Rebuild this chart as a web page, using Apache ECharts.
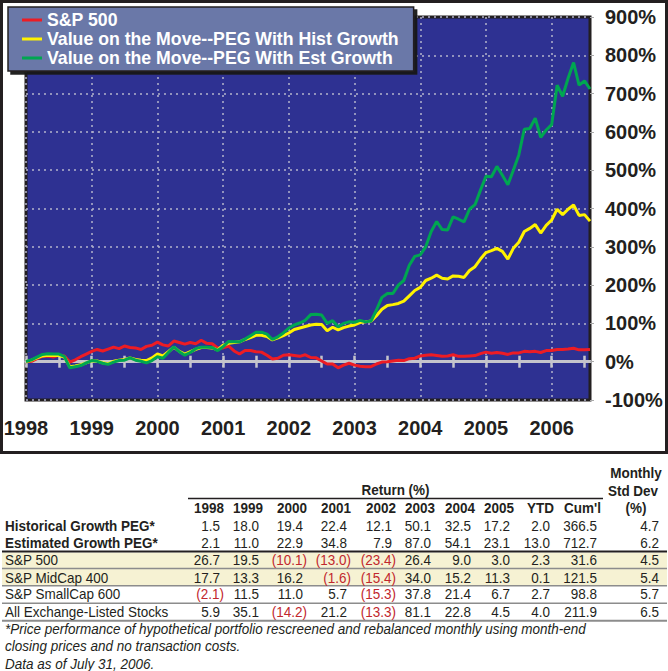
<!DOCTYPE html>
<html>
<head>
<meta charset="utf-8">
<script src="https://cdn.jsdelivr.net/npm/echarts@6/dist/echarts.min.js"></script>
<style>
  html, body { margin: 0; padding: 0; background: #fff; }
  #main { width: 668px; height: 671px; }
</style>
</head>
<body>
<div id="main"></div>
<script>
// month starts, Jan 1998 .. Aug 2006 (value = cumulative % at month start)
var months = [];
for (var i = 0; i < 104; i++) {
    var yr = 1998 + Math.floor(i / 12), mo = i % 12 + 1;
    months.push(yr + '-' + (mo < 10 ? '0' : '') + mo);
}

var sp500 = [0,
    1, 8, 14, 15, 12, 17, 15, -1, 5, 13, 20, 27,
    32, 28, 33, 38, 34, 41, 37, 36, 32, 40, 43, 51,
    44, 41, 54, 50, 46, 50, 47, 56, 48, 47, 36, 36,
    41, 28, 20, 29, 29, 26, 25, 17, 7, 9, 17, 18,
    16, 14, 18, 11, 10, 2, -6, -6, -16, -9, -4, -9,
    -12, -13, -13, -6, -1, 0, 2, 4, 3, 8, 9, 15,
    17, 18, 16, 14, 15, 18, 14, 14, 15, 16, 21, 25,
    22, 24, 22, 19, 23, 23, 27, 26, 27, 24, 29, 29,
    32, 32, 33, 35, 31, 31, 32];

var histPeg = [0,
    4, 10, 15, 17, 16, 16, 12, -13, -11, -8, -3, 2,
    2, -3, -5, 1, 4, 6, 10, 6, 4, 3, 10, 20,
    15, 26, 38, 27, 20, 26, 32, 37, 37, 36, 31, 43,
    48, 50, 52, 58, 63, 69, 69, 66, 57, 62, 68, 75,
    84, 88, 92, 96, 98, 97, 81, 90, 83, 89, 93, 96,
    102, 104, 106, 120, 137, 147, 149, 152, 158, 172, 186, 194,
    212, 218, 226, 218, 216, 224, 223, 220, 238, 248, 268, 285,
    290, 296, 288, 268, 296, 312, 340, 348, 358, 336, 356, 370,
    398, 384, 398, 409, 382, 384, 367];

var estPeg = [0,
    5, 12, 19, 21, 20, 20, 14, -16, -13, -10, -3, 3,
    1, -4, -7, -1, 3, 4, 10, 4, 1, -3, 3, 13,
    9, 24, 39, 26, 17, 24, 34, 38, 38, 37, 29, 39,
    53, 52, 52, 59, 68, 77, 77, 72, 58, 65, 75, 88,
    96, 101, 108, 123, 124, 122, 100, 107, 91, 100, 104, 103,
    108, 104, 106, 135, 168, 178, 178, 200, 212, 252, 275, 279,
    300, 340, 366, 345, 344, 378, 372, 365, 398, 410, 448, 484,
    483, 510, 487, 462, 500, 540, 607, 609, 636, 586, 605, 619,
    722, 693, 740, 781, 722, 733, 712];

var seriesNames = ['S&P 500', 'Value on the Move--PEG With Hist Growth', 'Value on the Move--PEG With Est Growth'];

// table below the chart
var tableCols = ['1998', '1999', '2000', '2001', '2002', '2003', '2004', '2005', 'YTD', "Cum'l"];
var tableRows = [
    { name: 'Historical Growth PEG*', bold: true, vals: [1.5, 18.0, 19.4, 22.4, 12.1, 50.1, 32.5, 17.2, 2.0, 366.5], sd: 4.7 },
    { name: 'Estimated Growth PEG*', bold: true, vals: [2.1, 11.0, 22.9, 34.8, 7.9, 87.0, 54.1, 23.1, 13.0, 712.7], sd: 6.2 },
    { name: 'S&P 500', vals: [26.7, 19.5, -10.1, -13.0, -23.4, 26.4, 9.0, 3.0, 2.3, 31.6], sd: 4.5 },
    { name: 'S&P MidCap 400', vals: [17.7, 13.3, 16.2, -1.6, -15.4, 34.0, 15.2, 11.3, 0.1, 121.5], sd: 5.4 },
    { name: 'S&P SmallCap 600', vals: [-2.1, 11.5, 11.0, 5.7, -15.3, 37.8, 21.4, 6.7, 2.7, 98.8], sd: 5.7 },
    { name: 'All Exchange-Listed Stocks', vals: [5.9, 35.1, -14.2, 21.2, -13.3, 81.1, 22.8, 4.5, 4.0, 211.9], sd: 6.5 }
];
var footnotes = [
    '*Price performance of hypothetical portfolio rescreened and rebalanced monthly using month-end',
    'closing prices and no transaction costs.',
    'Data as of July 31, 2006.'
];

var FONT = '"Liberation Sans", Arial, Helvetica, sans-serif';
var INK = '#231f20';
var NEG = '#c1272d';

function txt(x, y, s, opt) {
    opt = opt || {};
    return {
        type: 'text', x: x, y: y, scaleX: opt.sx || 0.9, z: 10,
        style: {
            text: s,
            fill: opt.color || INK,
            font: (opt.italic ? 'italic ' : '') + (opt.bold ? 'bold ' : '') + (opt.size || 15) + 'px ' + FONT,
            textAlign: opt.align || 'left',
            textVerticalAlign: 'middle'
        }
    };
}
function hline(x1, x2, y, color, w) {
    return { type: 'line', z: 9, shape: { x1: x1, y1: y, x2: x2, y2: y }, style: { stroke: color, lineWidth: w } };
}

var colRight = [224, 263, 307, 351, 396, 435, 475, 514, 554, 601];
var rowY = [525.7, 542.3, 560, 577.3, 594, 611.7];

var graphics = [
    { type: 'rect', z: 1, shape: { x: 1.5, y: 1.5, width: 665, height: 451 }, style: { fill: 'none', stroke: INK, lineWidth: 3 } },
    { type: 'rect', z: 8, shape: { x: 2, y: 552.5, width: 665, height: 33 }, style: { fill: '#f6f2d3' } },
    hline(188, 603, 498.5, INK, 1.5),
    hline(2, 667, 551.5, INK, 2),
    hline(2, 667, 568.5, '#8c8c8c', 1.5),
    hline(2, 667, 585.8, '#8c8c8c', 1.5),
    hline(2, 667, 603.3, '#8c8c8c', 1.5),
    hline(2, 667, 620.7, '#8c8c8c', 2),
    txt(395.5, 490, 'Return (%)', { bold: true, align: 'center' }),
    txt(636, 473, 'Monthly', { bold: true, align: 'center' }),
    txt(633, 490.7, 'Std Dev', { bold: true, align: 'center' }),
    txt(636, 508, '(%)', { bold: true, align: 'center' })
];
tableCols.forEach(function (c, j) {
    graphics.push(txt(colRight[j], 508, c, { bold: true, align: 'right' }));
});
tableRows.forEach(function (r, i) {
    graphics.push(txt(5, rowY[i], r.name, { bold: r.bold }));
    r.vals.forEach(function (v, j) {
        if (v < 0) {
            graphics.push(txt(colRight[j], rowY[i], '(' + (-v).toFixed(1) + ')', { align: 'right', color: NEG }));
        } else {
            graphics.push(txt(colRight[j] - 4, rowY[i], v.toFixed(1), { align: 'right' }));
        }
    });
    graphics.push(txt(659, rowY[i], r.sd.toFixed(1), { align: 'right' }));
});
footnotes.forEach(function (f, i) {
    graphics.push(txt(5, [629, 645.7, 663.3][i], f, { italic: true }));
});

var yearTick = function (idx) { return idx % 12 === 0; };
var halfTick = function (idx) { return idx % 6 === 0; };
var zeroLine = { color: '#c4c4cc', width: 3 };

var chart = echarts.init(document.getElementById('main'), null, { renderer: 'svg' });
chart.setOption({
    animation: false,
    textStyle: { fontFamily: FONT },
    grid: {
        left: 26, top: 17, right: 78, bottom: 271,
        show: true, backgroundColor: '#2e3192', borderColor: INK, borderWidth: 3
    },
    legend: {
        data: seriesNames,
        orient: 'vertical',
        left: 8, top: 7,
        padding: [4, 15, 4, 14],
        itemGap: 1,
        itemWidth: 20, itemHeight: 3,
        icon: 'rect',
        backgroundColor: '#6a78a8',
        borderColor: INK, borderWidth: 1.5,
        shadowColor: 'rgba(20,20,20,0.95)', shadowBlur: 1, shadowOffsetX: 3, shadowOffsetY: 3,
        textStyle: { color: '#fff', fontWeight: 'bold', fontSize: 17.7, fontFamily: FONT }
    },
    xAxis: [{
        type: 'category', data: months, boundaryGap: false,
        axisLine: { show: false, onZero: false },
        axisTick: { show: false },
        axisLabel: {
            interval: yearTick, margin: 18, color: INK, fontSize: 20, fontWeight: 'bold',
            formatter: function (v) { return v.slice(0, 4); }
        },
        splitLine: { show: true, interval: yearTick, lineStyle: { color: '#b4b4cc', width: 1.5, type: [2, 4] } }
    }, {
        type: 'category', data: months, boundaryGap: false, position: 'top',
        axisLine: { onZero: true, onZeroAxisIndex: 0, lineStyle: zeroLine },
        axisTick: { show: true, interval: halfTick, length: 6, lineStyle: { color: '#c4c4cc', width: 2.5 } },
        axisLabel: { show: false },
        splitLine: { show: false }
    }, {
        type: 'category', data: months, boundaryGap: false, position: 'bottom',
        axisLine: { onZero: true, onZeroAxisIndex: 0, lineStyle: zeroLine },
        axisTick: { show: true, interval: halfTick, length: 6, lineStyle: { color: '#c4c4cc', width: 2.5 } },
        axisLabel: { show: false },
        splitLine: { show: false }
    }],
    yAxis: {
        type: 'value', position: 'right',
        min: -100, max: 900, interval: 100,
        axisLine: { show: false },
        axisTick: { show: true, length: 4, lineStyle: { color: '#aaaaaa' } },
        axisLabel: { formatter: '{value}%', margin: 15, color: INK, fontSize: 20, fontWeight: 'bold' },
        splitLine: { show: true, lineStyle: { color: '#b4b4cc', width: 1.5, type: [2, 4] } }
    },
    series: [
        { name: seriesNames[0], type: 'line', data: sp500, showSymbol: false, symbol: 'none', color: '#ed1c24', lineStyle: { width: 3 } },
        { name: seriesNames[1], type: 'line', data: histPeg, showSymbol: false, symbol: 'none', color: '#fff200', lineStyle: { width: 3 } },
        { name: seriesNames[2], type: 'line', data: estPeg, showSymbol: false, symbol: 'none', color: '#00a651', lineStyle: { width: 3 } }
    ],
    graphic: graphics
});
</script>
</body>
</html>
